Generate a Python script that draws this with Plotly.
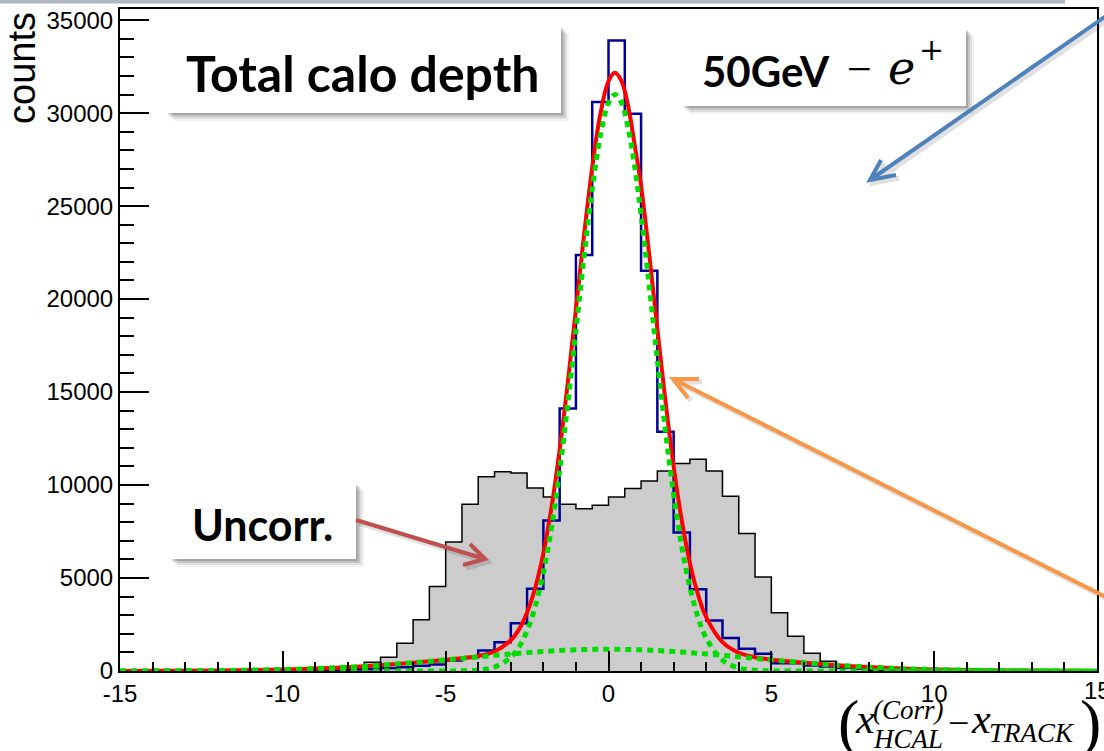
import plotly.graph_objects as go

# ---------------- data ----------------
X_MIN = -15.0
BIN_W = 0.5

# uncorrected distribution (grey filled histogram), 60 bins of 0.5 from -15
uncorr_counts = [0, 0, 0, 0, 0, 0, 0, 0, 0, 0, 0, 0,
                 10, 50, 150, 470, 740, 1490, 2760, 4550, 6940, 8970,
                 10440, 10710, 10650, 9840, 9360, 8970, 8730, 8910, 9360,
                 9810, 10220, 10760, 11160, 11390, 10760, 9400, 7390, 5050,
                 3130, 1870, 960, 530, 200, 100, 40, 10,
                 0, 0, 0, 0, 0, 0, 0, 0, 0, 0, 0, 0]

# corrected distribution (blue histogram)
corr_counts = [5, 8, 10, 12, 15, 18, 22, 25, 30, 35, 40, 45, 55, 65, 80, 100,
               150, 200, 280, 350, 570, 740, 1100, 1550, 2570, 4420, 8100,
               14120, 22370, 30600, 33910, 29970, 21530, 12860, 7450, 4390,
               2720, 1770, 1200, 930, 420, 420, 300, 240, 180, 140, 110, 90,
               70, 55, 45, 35, 30, 25, 20, 15, 12, 10, 8, 5]

# fit curves sampled at these x positions
fit_x = [-15, -12, -10, -9, -8, -7, -6, -5, -4.5, -4, -3.5, -3, -2.75, -2.5,
         -2.25, -2, -1.75, -1.5, -1.25, -1, -0.75, -0.5, -0.25, 0, 0.2, 0.4,
         0.6, 0.8, 1, 1.25, 1.5, 1.75, 2, 2.25, 2.5, 2.75, 3, 3.5, 4, 4.5, 5,
         6, 7, 8, 9, 10, 12, 15]

fit_total = [3, 24, 79, 131, 207, 311, 442, 597, 686, 808, 1049, 1654, 2240,
             3148, 4480, 6340, 8807, 11891, 15501, 19459, 23452, 27082, 29958,
             31720, 32169, 31715, 30398, 28330, 26100, 22400, 18400, 14500,
             11000, 8100, 5800, 4100, 2900, 1550, 980, 740, 610, 450, 315,
             210, 131, 79, 24, 3]

fit_core = [0, 0, 0, 0, 0, 0, 0, 2, 10, 49, 209, 737, 1290, 2160, 3460, 5290,
            7730, 10790, 14380, 18320, 22300, 25920, 28790, 30550, 31000,
            30550, 29240, 27180, 24540, 20720, 16720, 12890, 9490, 6680, 4490,
            2880, 1770, 581, 159, 36, 7, 0, 0, 0, 0, 0, 0, 0]

fit_bkg = [3, 24, 79, 131, 207, 311, 442, 595, 676, 759, 840, 917, 950, 988,
           1020, 1050, 1077, 1101, 1121, 1139, 1152, 1162, 1168, 1170, 1169,
           1165, 1158, 1150, 1139, 1121, 1101, 1077, 1050, 1020, 988, 950, 917,
           840, 759, 676, 595, 442, 311, 207, 131, 79, 24, 3]

x_ticks = [-15, -10, -5, 0, 5, 10, 15]
y_ticks = [0, 5000, 10000, 15000, 20000, 25000, 30000, 35000]

# ---------------- helpers ----------------
edges = [X_MIN + i * BIN_W for i in range(len(corr_counts) + 1)]


def steps(vals):
    return edges, list(vals) + [vals[-1]]


W, H = 1104, 751
ML, MR, MT, MB = 120, 7, 9, 80
PL, PR, PT, PB = ML, W - MR, MT, H - MB


def px(X):
    return (X - PL) / (PR - PL)


def py(Y):
    return (PB - Y) / (PB - PT)


fig = go.Figure()

gx, gy = steps(uncorr_counts)
fig.add_trace(go.Scatter(x=gx, y=gy, mode="lines", line_shape="hv",
                         line=dict(color="black", width=1.5),
                         fill="tozeroy", fillcolor="#cccccc",
                         showlegend=False, hoverinfo="skip"))
bx, by = steps(corr_counts)
fig.add_trace(go.Scatter(x=bx, y=by, mode="lines", line_shape="hv",
                         line=dict(color="#000099", width=2.5),
                         showlegend=False, hoverinfo="skip"))
fig.add_trace(go.Scatter(x=fit_x, y=fit_total, mode="lines", line_shape="spline",
                         line=dict(color="#ff0000", width=4),
                         showlegend=False, hoverinfo="skip"))
for arr in (fit_core, fit_bkg):
    fig.add_trace(go.Scatter(x=fit_x, y=arr, mode="lines", line_shape="spline",
                             line=dict(color="#00dd00", width=5, dash="6px,5px"),
                             showlegend=False, hoverinfo="skip"))

shapes = []
annotations = []

# slide top border
shapes.append(dict(type="rect", xref="paper", yref="paper",
                   x0=px(0), x1=px(1065), y0=py(0), y1=py(3.5),
                   line=dict(width=0), fillcolor="#aeb7c2", layer="above"))


def box(x0, y0, x1, y1):
    for off, a in ((8, 0.05), (6, 0.08), (4, 0.12), (2, 0.15)):
        shapes.append(dict(type="rect", xref="paper", yref="paper",
                           x0=px(x0 + off), x1=px(x1 + off),
                           y0=py(y0 + off), y1=py(y1 + off),
                           line=dict(width=0), fillcolor=f"rgba(0,0,0,{a})"))
    shapes.append(dict(type="rect", xref="paper", yref="paper",
                       x0=px(x0), x1=px(x1), y0=py(y0), y1=py(y1),
                       line=dict(width=0), fillcolor="white"))


def text(t, X, Y, size, family="Lato", color="black", xanchor="left",
         angle=0):
    annotations.append(dict(text=t, xref="paper", yref="paper", x=px(X),
                            y=py(Y), xanchor=xanchor, yanchor="middle",
                            showarrow=False, textangle=angle,
                            font=dict(size=size, family=family, color=color)))


def arrow(x0, y0, x1, y1, a1, a2, color):
    path = (f"M {px(x0)} {py(y0)} L {px(x1)} {py(y1)} "
            f"M {px(a1[0])} {py(a1[1])} L {px(x1)} {py(y1)} "
            f"L {px(a2[0])} {py(a2[1])}")
    spath = (f"M {px(x0+3)} {py(y0+3)} L {px(x1+3)} {py(y1+3)} "
             f"M {px(a1[0]+3)} {py(a1[1]+3)} L {px(x1+3)} {py(y1+3)} "
             f"L {px(a2[0]+3)} {py(a2[1]+3)}")
    shapes.append(dict(type="path", xref="paper", yref="paper", path=spath,
                       line=dict(color="rgba(0,0,0,0.12)", width=5)))
    shapes.append(dict(type="path", xref="paper", yref="paper", path=path,
                       line=dict(color=color, width=4)))


# text boxes
box(166, 26, 561, 113)
text("<b>Total calo depth</b>", 362, 73, 50, xanchor="center")

box(682, 28, 966, 106)
text("<b>50GeV</b>", 700, 71, 42)
text("−", 845, 70, 44, family="Liberation Serif")
text("<i>e</i>", 886, 68, 46, family="DejaVu Serif")
text("+", 917, 50, 30, family="DejaVu Serif")

box(170, 483, 356, 559)
text("<b>Uncorr.</b>", 262, 524, 43, xanchor="center")

# arrows
arrow(1106, 16, 870, 180, (896, 175), (881, 160), "#4f81bd")
arrow(1106, 597, 673, 379, (699, 379), (688, 398), "#f79646")
arrow(356, 520, 485, 559, (470, 544), (463, 565), "#c0504d")

# axis titles
text("counts", 22, 68, 38, family="Liberation Sans", xanchor="center",
     angle=-90)
SERIF = "Liberation Serif"
text("(", 836, 722, 64, family=SERIF)
text("<i>x</i>", 853, 719, 42, family=SERIF)
text("<i>(Corr)</i>", 871, 710, 27, family=SERIF)
text("<i>HCAL</i>", 871, 739, 27, family=SERIF)
text("−", 946, 723, 38, family=SERIF)
text("<i>x</i>", 969, 719, 42, family=SERIF)
text("<i>TRACK</i>", 987, 733, 27, family=SERIF)
text(")", 1078, 722, 64, family=SERIF)

# last x tick label (it runs past the page edge, so plotly would hide it)
annotations.append(dict(text=str(x_ticks[-1]), xref="x", yref="paper",
                        x=x_ticks[-1], y=py(690), xanchor="center",
                        yanchor="middle", showarrow=False,
                        font=dict(family="Liberation Sans", size=24,
                                  color="black")))

axis_common = dict(showline=True, mirror=True, linecolor="black", linewidth=2,
                   showgrid=False, zeroline=False, ticks="inside",
                   tickcolor="black", tickwidth=2, automargin=False,
                   tickfont=dict(family="Liberation Sans", size=24,
                                 color="black"))

fig.update_layout(
    width=W, height=H,
    margin=dict(l=ML, r=MR, t=MT, b=MB, pad=0, autoexpand=False),
    paper_bgcolor="white", plot_bgcolor="white",
    showlegend=False,
    shapes=shapes, annotations=annotations,
    xaxis=dict(range=[-15, 15], tickvals=x_ticks,
               ticktext=[str(v) for v in x_ticks], ticklen=20,
               minor=dict(dtick=1, ticklen=9, ticks="inside",
                          tickcolor="black", tickwidth=2),
               **axis_common),
    yaxis=dict(range=[0, 35600], tickvals=y_ticks,
               ticktext=[str(v) for v in y_ticks], ticklen=29,
               minor=dict(dtick=1000, ticklen=14, ticks="inside",
                          tickcolor="black", tickwidth=2),
               **axis_common),
)

fig.write_html("out.html")
